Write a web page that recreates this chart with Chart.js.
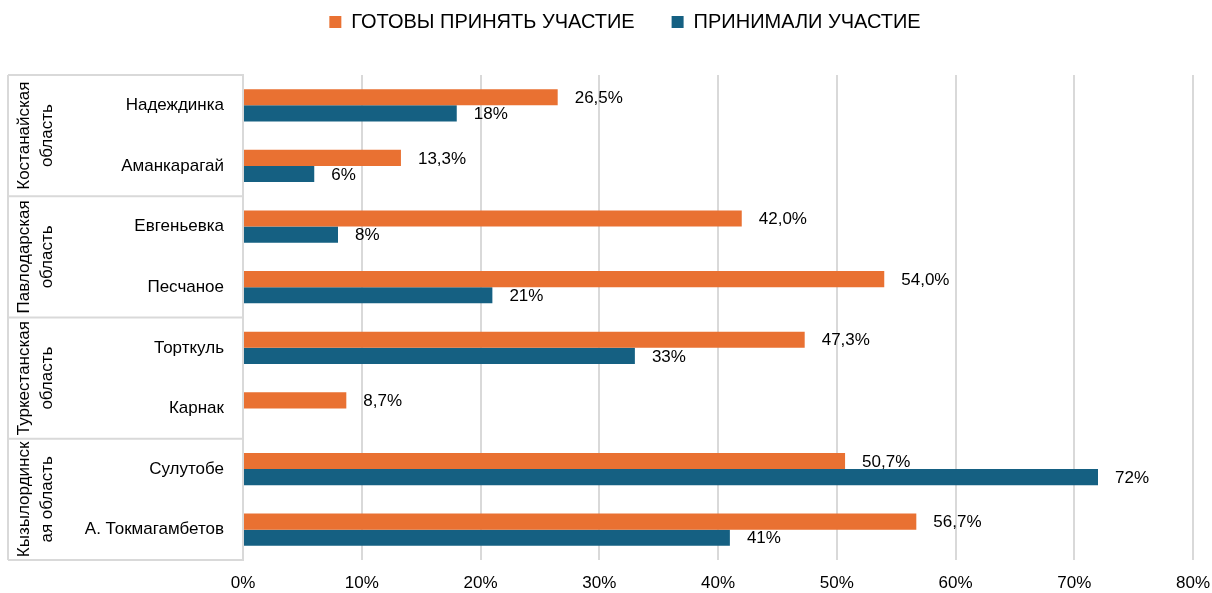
<!DOCTYPE html>
<html>
<head>
<meta charset="utf-8">
<title>Участие в проектах</title>
<script src="https://cdn.jsdelivr.net/npm/chart.js@4.4.0/dist/chart.umd.min.js"></script>
<style>
  html, body { margin: 0; padding: 0; background: #fff; }
  #wrap { width: 1212px; height: 593px; position: relative; }
</style>
</head>
<body>
<div id="wrap"><canvas id="chart"></canvas></div>
<script>
const villages = ['Надеждинка', 'Аманкарагай', 'Евгеньевка', 'Песчаное', 'Торткуль', 'Карнак', 'Сулутобе', 'А. Токмагамбетов'];
const regions = [
  ['Костанайская', 'область'],
  ['Павлодарская', 'область'],
  ['Туркестанская', 'область'],
  ['Кызылординск', 'ая область']
];
const readyValues = [26.5, 13.3, 42.0, 54.0, 47.3, 8.7, 50.7, 56.7];
const tookPartValues = [18, 6, 8, 21, 33, null, 72, 41];
const xTicks = [0, 10, 20, 30, 40, 50, 60, 70, 80];

const ORANGE = '#E97132';
const BLUE = '#156082';
const GRID = '#d9d9d9';
const TEXT = '#000000';
const FONT = "'Liberation Sans', Arial, sans-serif";
const SIZE = 17;

Chart.defaults.font.family = FONT;
Chart.defaults.font.size = SIZE;
Chart.defaults.color = TEXT;

// value labels to the right of each bar
const barValues = {
  id: 'barValues',
  afterDatasetsDraw(chart) {
    const { ctx } = chart;
    ctx.save();
    ctx.font = `${SIZE}px ${FONT}`;
    ctx.fillStyle = TEXT;
    ctx.textAlign = 'left';
    ctx.textBaseline = 'middle';
    chart.data.datasets.forEach((ds, di) => {
      const meta = chart.getDatasetMeta(di);
      meta.data.forEach((bar, i) => {
        const v = ds.data[i];
        if (v === null || v === undefined) return;
        const txt = di === 0 ? v.toFixed(1).replace('.', ',') + '%' : v + '%';
        ctx.fillText(txt, bar.x + 17, bar.y + 1);
      });
    });
    ctx.restore();
  }
};

// region grouping column on the left
const regionGroups = {
  id: 'regionGroups',
  afterDraw(chart) {
    const { ctx, chartArea, scales: { y } } = chart;
    const left = 8;
    const step = y.getPixelForValue(1) - y.getPixelForValue(0);
    ctx.save();
    ctx.strokeStyle = GRID;
    ctx.lineWidth = 2;
    ctx.beginPath();
    ctx.moveTo(left, chartArea.top);
    ctx.lineTo(left, chartArea.bottom);
    for (let g = 0; g <= regions.length; g++) {
      const yy = y.getPixelForValue(g * 2) - step / 2;
      ctx.moveTo(left, yy);
      ctx.lineTo(chartArea.left, yy);
    }
    ctx.stroke();

    ctx.fillStyle = TEXT;
    ctx.font = `${SIZE}px ${FONT}`;
    ctx.textAlign = 'center';
    ctx.textBaseline = 'middle';
    regions.forEach((lines, g) => {
      const cy = (y.getPixelForValue(g * 2) + y.getPixelForValue(g * 2 + 1)) / 2;
      lines.forEach((t, i) => {
        ctx.save();
        ctx.translate(24 + i * 23, cy);
        ctx.rotate(-Math.PI / 2);
        ctx.fillText(t, 0, 0);
        ctx.restore();
      });
    });
    ctx.restore();
  }
};

// keep the legend high above the plot and nudge it right
const legendPlace = {
  id: 'legendPlace',
  afterLayout(chart) {
    const lg = chart.legend;
    lg.top = 22 - 37 - 10;
    lg.left += 19;
    lg.right += 19;
  }
};

new Chart(document.getElementById('chart'), {
  type: 'bar',
  data: {
    labels: villages,
    datasets: [
      {
        label: 'ГОТОВЫ ПРИНЯТЬ УЧАСТИЕ',
        data: readyValues,
        backgroundColor: ORANGE,
        categoryPercentage: 0.53,
        barPercentage: 1
      },
      {
        label: 'ПРИНИМАЛИ УЧАСТИЕ',
        data: tookPartValues,
        backgroundColor: BLUE,
        categoryPercentage: 0.53,
        barPercentage: 1
      }
    ]
  },
  options: {
    indexAxis: 'y',
    responsive: true,
    maintainAspectRatio: false,
    animation: false,
    layout: { padding: { top: 8, right: 0, bottom: 0, left: 0 } },
    plugins: {
      legend: {
        position: 'top',
        labels: {
          boxWidth: 12,
          boxHeight: 12,
          padding: 37,
          font: { size: 20 },
          color: TEXT
        }
      },
      tooltip: { enabled: false }
    },
    scales: {
      x: {
        min: 0,
        max: 80,
        afterBuildTicks(scale) {
          scale.ticks = xTicks.map(v => ({ value: v }));
        },
        afterFit(scale) {
          scale.height = 33;
          scale.paddingRight = 19;
        },
        ticks: {
          padding: 13,
          callback: v => v + '%',
          font: { size: SIZE },
          color: TEXT
        },
        grid: { color: GRID, lineWidth: 2, drawTicks: false },
        border: { display: false }
      },
      y: {
        afterFit(scale) { scale.width = 243; },
        ticks: { padding: 19, font: { size: SIZE }, color: TEXT },
        grid: { display: false, drawTicks: false },
        border: { display: true, color: GRID, width: 2 }
      }
    }
  },
  plugins: [barValues, regionGroups, legendPlace]
});
</script>
</body>
</html>
